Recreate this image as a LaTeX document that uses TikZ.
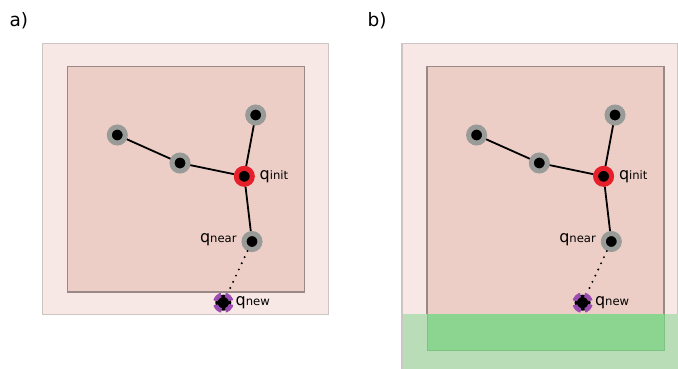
\documentclass[tikz,border=0pt]{standalone}
\usepackage{fontspec}
\setmainfont{DejaVu Sans}
\definecolor{outerfill}{HTML}{F7E8E5}
\definecolor{outerline}{HTML}{CDC5C4}
\definecolor{innerfill}{HTML}{EDCEC6}
\definecolor{innerline}{HTML}{988986}
\definecolor{greenlight}{HTML}{B9DDB7}
\definecolor{greendark}{HTML}{8BD590}
\definecolor{greenline}{HTML}{7CC282}
\definecolor{nodegray}{HTML}{989B98}
\definecolor{initred}{HTML}{E5202A}
\definecolor{newpurple}{HTML}{9A4CB0}
\tikzset{
  outerbox/.style={fill=outerfill, draw=outerline, line width=1.4pt},
  innerbox/.style={fill=innerfill, draw=innerline, line width=1.1pt},
  treenode/.style={circle, fill=black, draw=nodegray, line width=5pt, minimum size=16pt, inner sep=0pt},
  initnode/.style={treenode, draw=initred},
  newnode/.style={circle, fill=black, draw=newpurple, line width=4.5pt, minimum size=16pt, inner sep=0pt, dash pattern=on 8.4pt off 4.17pt, dash phase=10.49pt},
  treeedge/.style={black, line width=1.8pt},
  dottededge/.style={black, line width=2.2pt, line cap=round, dash pattern=on 0pt off 6.8pt},
  qlabel/.style={anchor=base west, inner sep=0pt, font=\fontsize{16}{16}\selectfont},
  panellabel/.style={anchor=base west, inner sep=0pt, font=\fontsize{18.5}{18.5}\selectfont}
}
\newcommand{\subtxt}[1]{{\fontsize{11.6}{11.6}\selectfont #1}}
\begin{document}
\begin{tikzpicture}[x=1pt, y=-1pt]
\useasboundingbox (0,0) rectangle (678,368);
\clip (0,0) rectangle (678,368);
% panel a boxes
\draw[outerbox] (42.7,43.3) rectangle (328.3,314.3);
\draw[innerbox] (67.3,66.3) rectangle (304.3,292);
% panel b boxes
\draw[outerbox] (402,43.3) rectangle (677.3,400);
\draw[innerbox] (427,66.3) rectangle (664,350);
% green band
\fill[greenlight] (402.7,314) rectangle (680,370);
\fill[greendark] (427,314) rectangle (664,350);
\draw[greenline, line width=0.8pt] (427,314) -- (427,350) -- (664,350) -- (664,314);
\draw[outerline, line width=1.4pt] (402,314) -- (402,370);
% panel labels
\node[panellabel] (la) at (9.3,26.7) {a)};
\node[panellabel] (lb) at (367.3,26.7) {b)};
% trees
\foreach \p/\dx in {a/0, b/359.3}{
  \begin{scope}[xshift=\dx pt]
    \node[treenode] (\p n1) at (117.3,135) {};
    \node[treenode] (\p n2) at (180,163) {};
    \node[treenode] (\p n3) at (255.7,115) {};
    \node[initnode] (\p init) at (244.3,176.3) {};
    \node[treenode] (\p near) at (252,241.5) {};
    \node[newnode] (\p new) at (223.3,302.7) {};
    \node[qlabel] (\p linit) at (259.5,179.3) {q\subtxt{init}};
    \node[qlabel] (\p lnear) at (199.8,242.7) {q\subtxt{near}};
    \node[qlabel] (\p lnew) at (235.5,305.7) {q\subtxt{new}};
  \end{scope}
}
\foreach \p in {a,b}{
  \draw[treeedge] (\p n1) -- (\p n2);
  \draw[treeedge] (\p n2) -- (\p init);
  \draw[treeedge] (\p n3) -- (\p init);
  \draw[treeedge] (\p init) -- (\p near);
  \draw[dottededge] (\p near) -- (\p new);
}
\end{tikzpicture}
\end{document}
